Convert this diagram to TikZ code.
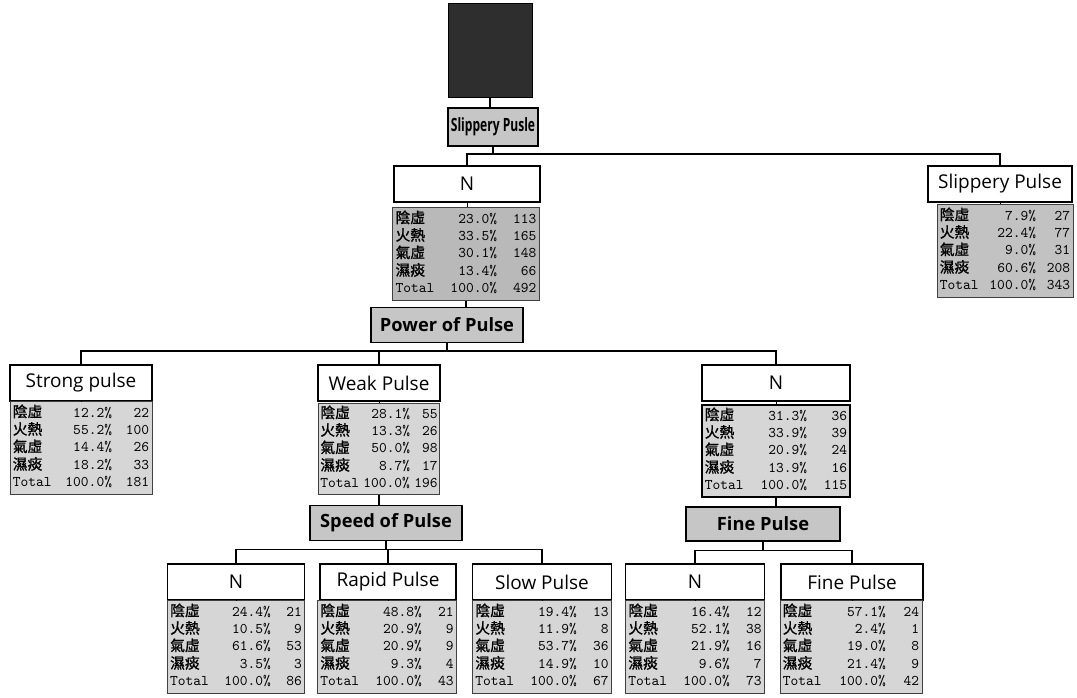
\documentclass[tikz,border=0pt]{standalone}
\usepackage{fontspec}
\setsansfont{Open Sans}
\newfontfamily\cjk[FakeBold=1.2]{Noto Sans CJK TC}
\usepackage{tikz}

% one stats table: percent and count for each class, then the total
\newcommand{\pstat}[9]{%
  \begin{tabular*}{\linewidth}{@{}l@{\extracolsep{\fill}}r@{\extracolsep{\fill}}r@{}}
    {\cjk 陰虛} & #1\% & #2\\
    {\cjk 火熱} & #3\% & #4\\
    {\cjk 氣虛} & #5\% & #6\\
    {\cjk 濕痰} & #7\% & #8\\
    Total & 100.0\% & #9
  \end{tabular*}}

\tikzset{
  hdr/.style={draw=black, line width=1.2pt, fill=gray!45, font=\sffamily\bfseries\fontsize{13}{15}\selectfont, minimum height=0.875cm, inner sep=1pt},
  lbl/.style={draw=black, line width=1.2pt, fill=white, font=\sffamily\fontsize{13.5}{16}\selectfont, minimum height=0.9cm, inner sep=1pt},
  tbl/.style={draw=black!75, fill=gray!32, font=\ttfamily\addfontfeatures{FakeBold=1.5}\fontsize{10.5}{12}\selectfont, inner sep=2pt, align=left},
  link/.style={line width=1.1pt},
}

\begin{document}
\begin{tikzpicture}[x=0.025cm, y=-0.025cm]
  \useasboundingbox (0,0) rectangle (1077,697);

  % root and first split
  \node[fill=black!82, draw=black, minimum width=2.1cm, minimum height=2.35cm] (root) at (490,50) {};
  \node[hdr, minimum width=2.25cm, minimum height=0.95cm] (slip) at (493,127) {\scalebox{0.66}[1]{Slippery Pusle}};

  \node[lbl, minimum width=3.65cm] (nA) at (467,184) {N};
  \node[tbl, text width=3.52cm, fill=gray!55] (tA) at (466,254) {\pstat{23.0}{113}{33.5}{165}{30.1}{148}{13.4}{66}{492}};
  \node[lbl, minimum width=3.6cm] (sR) at (1000,184) {Slippery Pulse};
  \node[tbl, text width=3.26cm, fill=gray!48] (tR) at (1005,251) {\pstat{7.9}{27}{22.4}{77}{9.0}{31}{60.6}{208}{343}};

  % second split
  \node[hdr, minimum width=3.8cm] (pow) at (447,325) {Power of Pulse};

  \node[lbl, minimum width=3.55cm] (strong) at (81,383) {Strong pulse};
  \node[tbl, text width=3.41cm] (tS) at (81,448) {\pstat{12.2}{22}{55.2}{100}{14.4}{26}{18.2}{33}{181}};
  \node[lbl, minimum width=3.05cm] (weak) at (379,383) {Weak Pulse};
  \node[tbl, text width=2.93cm, inner sep=1.5pt] (tW) at (379,449) {\pstat{28.1}{55}{13.3}{26}{50.0}{98}{8.7}{17}{196}};
  \node[lbl, minimum width=3.7cm] (nB) at (776,383) {N};
  \node[tbl, text width=3.56cm, draw=black, line width=1.6pt] (tB) at (776,451) {\pstat{31.3}{36}{33.9}{39}{20.9}{24}{13.9}{16}{115}};

  % third level
  \node[hdr, minimum width=3.8cm] (speed) at (386,523) {Speed of Pulse};
  \node[hdr, minimum width=3.85cm, minimum height=0.85cm] (fine) at (763,524) {Fine Pulse};

  \node[lbl, minimum width=3.425cm] (nC) at (236,582) {N};
  \node[tbl, text width=3.29cm] (tC) at (236,647) {\pstat{24.4}{21}{10.5}{9}{61.6}{53}{3.5}{3}{86}};
  \node[lbl, minimum width=3.4cm] (rapid) at (388,582) {Rapid Pulse};
  \node[tbl, text width=3.33cm] (tRp) at (387,647) {\pstat{48.8}{21}{20.9}{9}{20.9}{9}{9.3}{4}{43}};
  \node[lbl, minimum width=3.475cm] (slow) at (542,582) {Slow Pulse};
  \node[tbl, text width=3.33cm] (tSl) at (542,647) {\pstat{19.4}{13}{11.9}{8}{53.7}{36}{14.9}{10}{67}};

  \node[lbl, minimum width=3.475cm] (nD) at (695,582) {N};
  \node[tbl, text width=3.33cm] (tD) at (695,647) {\pstat{16.4}{12}{52.1}{38}{21.9}{16}{9.6}{7}{73}};
  \node[lbl, minimum width=3.55cm] (fineP) at (852,582) {Fine Pulse};
  \node[tbl, text width=3.41cm] (tF) at (851,647) {\pstat{57.1}{24}{2.4}{1}{19.0}{8}{21.4}{9}{42}};

  % connectors
  \draw[link] (root.south) -- (root.south |- slip.north);
  \draw[link] (slip.south) -- ++(0,7) coordinate (b1) -| (nA.north);
  \draw[link] (b1) -| (sR.north);
  \draw[link] (tA.south) -- (tA.south |- pow.north);
  \draw[link] (pow.south) -- ++(0,7.5) coordinate (b2) -| (strong.north);
  \draw[link] (b2) -| (weak.north);
  \draw[link] (b2) -| (nB.north);
  \draw[link] (tW.south) -- (tW.south |- speed.north);
  \draw[link] (tB.south) -- (tB.south |- fine.north);
  \draw[link] (speed.south) -- ++(0,8) coordinate (b3) -| (nC.north);
  \draw[link] (b3) -| (rapid.north);
  \draw[link] (b3) -| (slow.north);
  \draw[link] (fine.south) -- ++(0,8.5) coordinate (b4) -| (nD.north);
  \draw[link] (b4) -| (fineP.north);

  % short ticks from label boxes to their tables
  \foreach \a/\b in {nA/tA, sR/tR, strong/tS, weak/tW, nB/tB, nC/tC, rapid/tRp, slow/tSl, nD/tD, fineP/tF}
    \draw (\a.south) -- (\a.south |- \b.north);
\end{tikzpicture}
\end{document}
